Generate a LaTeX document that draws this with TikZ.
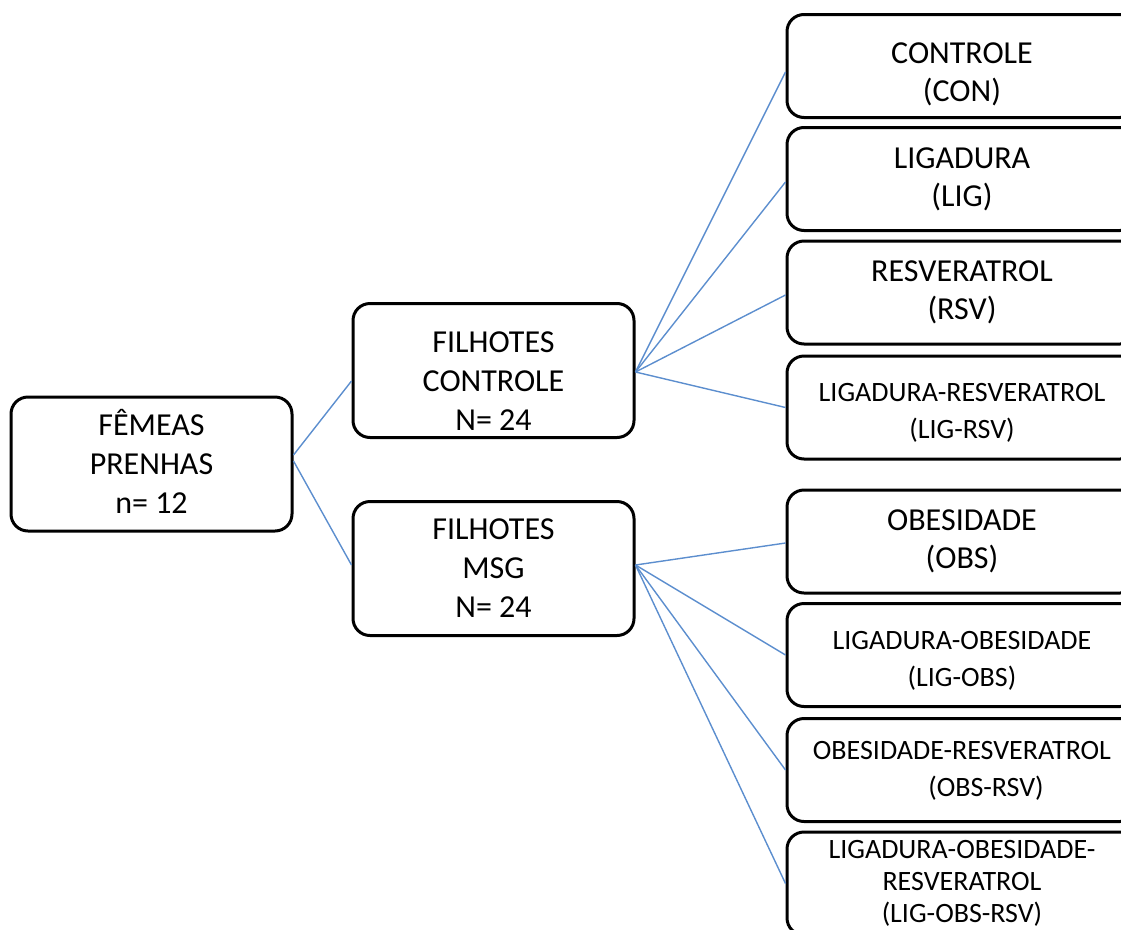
\documentclass[tikz,border=0pt]{standalone}
\usepackage{fontspec}
\setmainfont{Carlito}
\definecolor{linkblue}{RGB}{92,142,206}
\newcommand{\strutup}[1]{\rule{0pt}{#1}}
\newcommand{\strutdown}[1]{\rule[-#1]{0pt}{#1}}
\begin{document}
\begin{tikzpicture}[x=1pt,y=-1pt,
  boxbase/.style={draw=black, line width=3pt, rounded corners=17pt, fill=white, align=center, inner sep=0pt},
  midbox/.style={boxbase, minimum width=281pt, minimum height=134pt, font=\fontsize{32}{39}\selectfont},
  rbox/.style={boxbase, minimum width=350pt, minimum height=103pt, font=\fontsize{32}{38}\selectfont},
  smalltext/.style={font=\fontsize{28}{37}\selectfont},
  tinytext/.style={font=\fontsize{28}{32}\selectfont},
  link/.style={draw=linkblue, line width=1.4pt}]
\useasboundingbox (0,0) rectangle (1121,929);
\clip (0,0) rectangle (1121,929);

\node[midbox] (fem) at (151.5,464) {FÊMEAS\\PRENHAS\\n= 12\strutdown{6pt}};
\node[midbox] (fc) at (493.5,370.5) {\strutup{41pt}FILHOTES\\CONTROLE\\N= 24};
\node[midbox] (fm) at (493.5,568.5) {FILHOTES\\MSG\\N= 24};

\node[rbox] (r1) at (962,66) {\strutup{37pt}CONTROLE\\(CON)};
\node[rbox] (r2) at (962,179) {LIGADURA\\(LIG)};
\node[rbox] (r3) at (962,292.5) {RESVERATROL\\(RSV)};
\node[rbox, smalltext] (r4) at (962,407.5) {\strutup{29pt}LIGADURA-RESVERATROL\\(LIG-RSV)};
\node[rbox] (r5) at (962,541.5) {OBESIDADE\\(OBS)};
\node[rbox, smalltext] (r6) at (962,655) {\strutup{30pt}LIGADURA-OBESIDADE\\(LIG-OBS)};
\node[rbox, smalltext] (r7) at (962,770) {\strutup{20pt}OBESIDADE-RESVERATROL\\\hspace*{48pt}(OBS-RSV)};
\node[rbox, tinytext] (r8) at (962,883.5) {LIGADURA-OBESIDADE-\\RESVERATROL\\(LIG-OBS-RSV)};

\draw[link] ([yshift=9pt]fem.east) -- ([yshift=-10.5pt]fc.west);
\draw[link] ([yshift=3pt]fem.east) -- ([yshift=3.5pt]fm.west);

\draw[link] ([yshift=-1.5pt]fc.east) -- ([yshift=-6pt]r1.west);
\draw[link] ([yshift=-1.5pt]fc.east) -- ([yshift=-3pt]r2.west);
\draw[link] ([yshift=-1.5pt]fc.east) -- ([yshift=-2.5pt]r3.west);
\draw[link] ([yshift=-1.5pt]fc.east) -- (r4.west);

\draw[link] ([yshift=3.5pt]fm.east) -- ([yshift=-1.5pt]r5.west);
\draw[link] ([yshift=3.5pt]fm.east) -- (r6.west);
\draw[link] ([yshift=3.5pt]fm.east) -- (r7.west);
\draw[link] ([yshift=3.5pt]fm.east) -- (r8.west);
\end{tikzpicture}
\end{document}
